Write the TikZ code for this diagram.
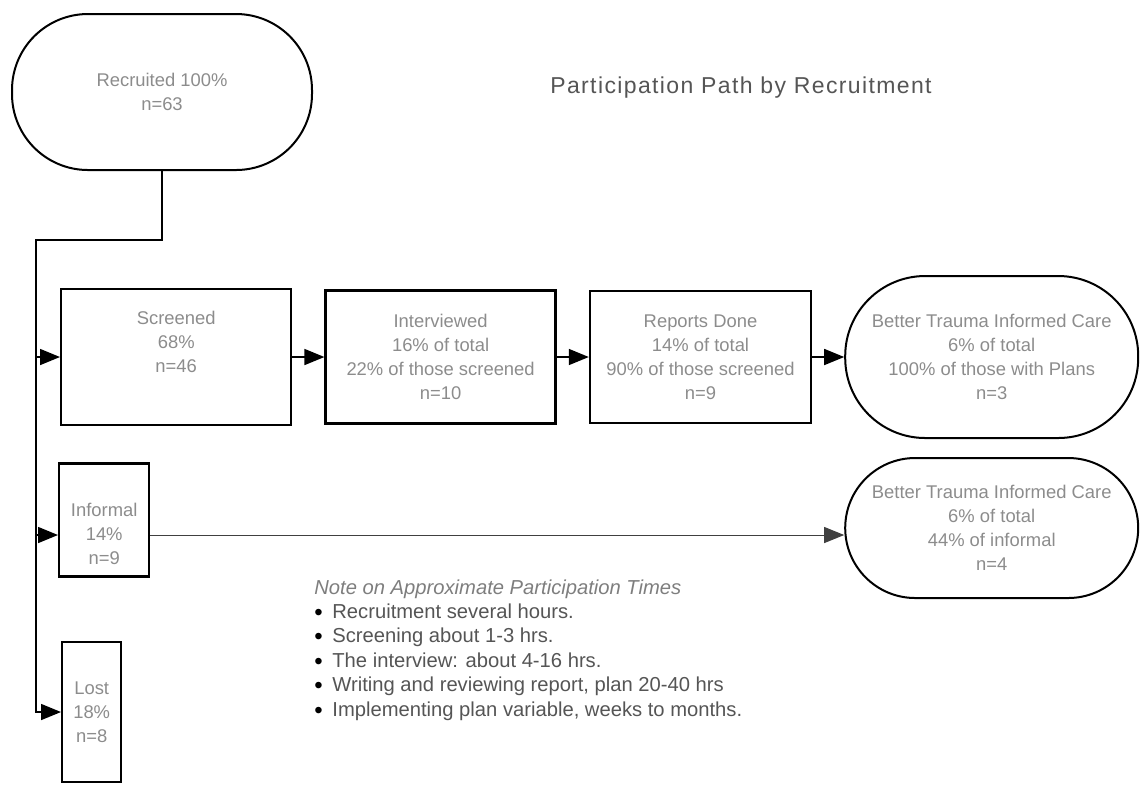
\documentclass[tikz,border=0pt]{standalone}
\usepackage{fontspec}
\setsansfont{Liberation Sans}
\usepackage{xcolor}
\definecolor{ink}{HTML}{8C8C8C}
\definecolor{dark}{HTML}{555555}
\usepackage{tikz}
\usetikzlibrary{positioning,arrows.meta}

\newcommand{\notebullet}{\makebox[9pt][l]{\smash{\raisebox{-1pt}{\textcolor{black}{\fontsize{12}{12}\selectfont\textbullet}}}}}

\begin{document}
\begin{tikzpicture}[
  x=0.5pt,y=-0.5pt,
  font=\sffamily\fontsize{9.2}{12}\selectfont,
  >={Triangle[length=10pt,width=8pt]},
  every node/.style={align=center},
  stage/.style={draw=black,line width=1.2pt,inner sep=2pt,text=ink},
  outcome/.style={draw=black,line width=1pt,rounded corners=#1,inner sep=2pt,
              text=ink,minimum width=146.5pt},
  outcome/.default=38pt,
  flow/.style={->,line width=0.8pt},
]
\useasboundingbox (0,0) rectangle (1144,784);

% --- top: recruitment pool and title
\node[outcome=38pt,minimum width=150pt,minimum height=78pt] (recruited) at (162,92)
   {Recruited 100\%\\n=63};
\node[text=dark,font=\sffamily\fontsize{11.5}{14}\selectfont\addfontfeature{LetterSpace=6}]
   (title) at (741,88) {Participation Path by Recruitment};

% --- main path: screened -> interviewed -> reports -> care
\node[stage,minimum width=115pt,minimum height=68pt,anchor=west] (screened) at (60,357)
   {Screened\\68\%\\n=46\\\strut};
\node[stage,minimum width=115pt,minimum height=66.5pt,right=16pt of screened] (interviewed)
   {Interviewed\\16\% of total\\22\% of those screened\\n=10};
\node[stage,minimum width=110.5pt,minimum height=66pt,right=16pt of interviewed] (reports)
   {Reports Done\\14\% of total\\90\% of those screened\\n=9};
\node[outcome=40pt,minimum height=81pt,right=16pt of reports] (careplan)
   {Better Trauma Informed Care\\6\% of total\\100\% of those with Plans\\n=3};

% --- side paths
\node[stage,minimum width=45pt,minimum height=56.5pt,anchor=west] (informal) at (58,520)
   {\strut\\Informal\\14\%\\n=9};
\node[outcome=35pt,minimum height=70pt,below=9pt of careplan] (careinf)
   {Better Trauma Informed Care\\6\% of total\\44\% of informal\\n=4};
\node[stage,minimum width=29.5pt,minimum height=70pt,anchor=west] (lost) at (61,712)
   {Lost\\18\%\\n=8};

% --- note on times
\node[anchor=north west,align=left,inner sep=0pt,text=dark,
      font=\sffamily\fontsize{10.1}{12.2}\selectfont] (note) at (314,579)
   {\textcolor{ink!90!black}{\itshape Note on Approximate Participation Times}\\
    \notebullet Recruitment several hours.\\
    \notebullet Screening about 1-3 hrs.\\
    \notebullet The interview: about 4-16 hrs.\\
    \notebullet Writing and reviewing report, plan 20-40 hrs\\
    \notebullet Implementing plan variable, weeks to months.};

% --- connectors
\coordinate (split) at (36,240);
\draw[flow] (recruited.south) |- (split) |- (lost.west);
\draw[flow] (split |- screened.west) -- (screened.west);
\draw[flow] (split |- informal.west) ++(0,15) -- ([yshift=-7.5pt]informal.west);
\draw[flow] (screened) -- (interviewed);
\draw[flow] (interviewed) -- (reports);
\draw[flow] (reports) -- (careplan);
\draw[->,line width=0.5pt,black!75] ([yshift=-7.5pt]informal.east)
   -- ([yshift=-7.5pt]informal.east -| careinf.west);

\end{tikzpicture}
\end{document}
